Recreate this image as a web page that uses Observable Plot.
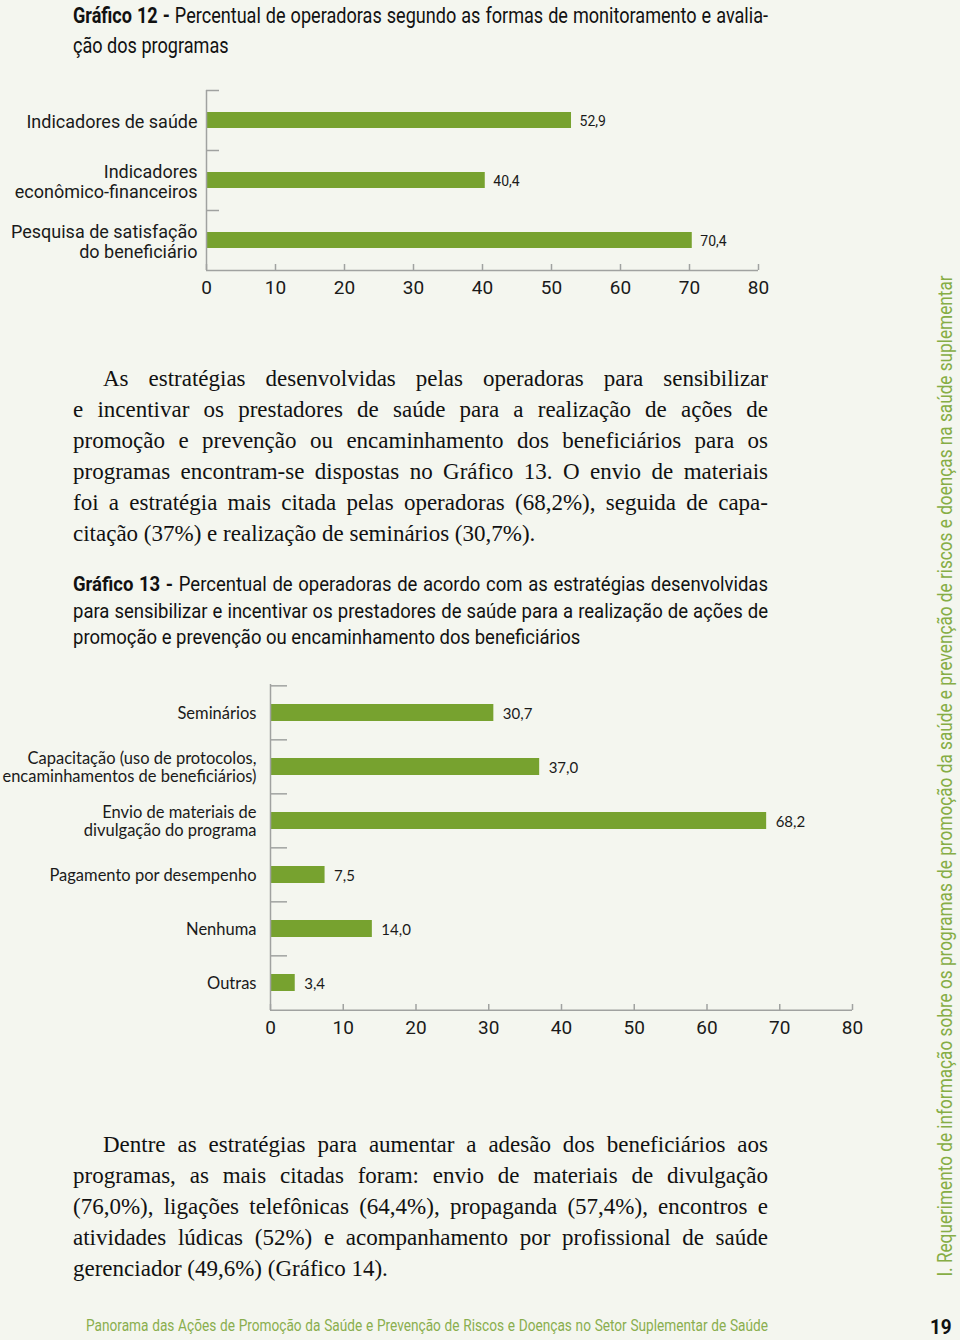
<!DOCTYPE html>
<html>
<head>
<meta charset="utf-8">
<script src="https://cdn.jsdelivr.net/npm/d3@7"></script>
<script src="https://cdn.jsdelivr.net/npm/@observablehq/plot@0.6"></script>
<style>
  html, body { margin: 0; padding: 0; }
  body { width: 960px; height: 1340px; background: #f4f6ef; position: relative; overflow: hidden; }
  .abs { position: absolute; }
  .cond { font-family: Roboto, "Liberation Sans", sans-serif; }
  .serif { font-family: "Liberation Serif", "DejaVu Serif", serif; }
  .line { white-space: nowrap; text-align: justify; text-align-last: justify; }
  .line.last { text-align-last: left; }
  .title { color: #111; font-size: 21px; line-height: 30px; left: 73px; transform-origin: 0 0; }
  .para { color: #111; font-size: 23px; line-height: 31px; width: 695px; left: 73px; }
</style>
</head>
<body>
<div id="root"></div>
<script>
// ---------- data ----------
const cats12 = ["Indicadores de saúde", "Indicadores\neconômico-financeiros", "Pesquisa de satisfação\ndo beneficiário"];
const vals12 = [52.9, 40.4, 70.4];

const cats13 = ["Seminários", "Capacitação (uso de protocolos,\nencaminhamentos de beneficiários)", "Envio de materiais de\ndivulgação do programa", "Pagamento por desempenho", "Nenhuma", "Outras"];
const vals13 = [30.7, 37.0, 68.2, 7.5, 14.0, 3.4];

const xTicks = [0, 10, 20, 30, 40, 50, 60, 70, 80];

// ---------- text ----------
const title12 = ["<b>Gráfico 12 -</b> Percentual de operadoras segundo as formas de monitoramento e avalia-", "ção dos programas"];
const para1 = [
  "As estratégias desenvolvidas pelas operadoras para sensibilizar",
  "e incentivar os prestadores de saúde para a realização de ações de",
  "promoção e prevenção ou encaminhamento dos beneficiários para os",
  "programas encontram-se dispostas no Gráfico 13. O envio de materiais",
  "foi a estratégia mais citada pelas operadoras (68,2%), seguida de capa-",
  "citação (37%) e realização de seminários (30,7%)."
];
const title13 = [
  "<b>Gráfico 13 -</b> Percentual de operadoras de acordo com as estratégias desenvolvidas",
  "para sensibilizar e incentivar os prestadores de saúde para a realização de ações de",
  "promoção e prevenção ou encaminhamento dos beneficiários"
];
const para2 = [
  "Dentre as estratégias para aumentar a adesão dos beneficiários aos",
  "programas, as mais citadas foram: envio de materiais de divulgação",
  "(76,0%), ligações telefônicas (64,4%), propaganda (57,4%), encontros e",
  "atividades lúdicas (52%) e acompanhamento por profissional de saúde",
  "gerenciador (49,6%) (Gráfico 14)."
];

const root = document.getElementById("root");
function block(lines, cls, top, indent, squeeze, extra, width = 695) {
  const d = document.createElement("div");
  d.className = "abs " + cls;
  d.style.top = top + "px";
  if (extra) Object.assign(d.style, extra);
  const els = lines.map((t, i) => {
    const l = document.createElement("div");
    l.className = "line" + (i === lines.length - 1 ? " last" : "");
    if (i === 0 && indent) l.style.textIndent = indent + "px";
    l.innerHTML = t;
    d.appendChild(l);
    return l;
  });
  root.appendChild(d);
  if (squeeze) {
    // measure natural widths of the justified lines, fit the widest with a horizontal squeeze
    let maxW = 0;
    els.forEach((l, i) => {
      if (i === els.length - 1 && els.length > 1) return;
      l.style.display = "inline-block";
      maxW = Math.max(maxW, l.getBoundingClientRect().width + (i === 0 && indent ? 0 : 0));
      l.style.display = "";
    });
    const s = Math.min(1, (width - 6) / maxW);
    d.style.transformOrigin = "0 0";
    d.style.width = (width / s) + "px";
    d.style.transform = `scaleX(${s})`;
  } else {
    d.style.width = width + "px";
  }
  return d;
}
block(title12, "title cond", 1, 0, true, {fontSize: "21.5px"});
block(para1, "para serif", 363, 30);
block(title13, "title cond", 571, 0, true, {fontSize: "20.5px", lineHeight: "26.5px"});
block(para2, "para serif", 1129, 30);

// footer
const foot = block(["Panorama das Ações de Promoção da Saúde e Prevenção de Riscos e Doenças no Setor Suplementar de Saúde", ""], "cond", 1316, 0, true, {left: "86px", fontSize: "16px", color: "#8aae4e"}, 682);

const pg = document.createElement("div");
pg.className = "abs cond";
pg.style.cssText += "left:930px;top:1315px;font-size:21px;font-weight:bold;color:#111;transform-origin:0 0;transform:scaleX(0.9);";
pg.textContent = "19";
root.appendChild(pg);

// sidebar (rotated)
const side = document.createElement("div");
side.className = "abs cond";
side.style.cssText += "font-size:21px;color:#86ad45;white-space:nowrap;line-height:24px;";
side.textContent = "I. Requerimento de informação sobre os programas de promoção da saúde e prevenção de riscos e doenças na saúde suplementar";
root.appendChild(side);
{
  const w = side.offsetWidth, h = side.offsetHeight;
  const s = 1001 / w;
  side.style.left = (945 - w / 2) + "px";
  side.style.top = (775.5 - h / 2) + "px";
  side.style.transform = `rotate(-90deg) scaleX(${s})`;
}

// ---------- charts ----------
const GREEN = "#77a22f";
const AXIS = "#a0a2a0";
const COND = 'Roboto, "Liberation Sans", sans-serif';
const HUM = 'Lato, "Noto Sans", sans-serif';
const fmt = v => v.toFixed(1).replace(".", ",");

function chart(opts) {
  const {cats, vals, width, height, mt, mb, ml, mr, padIn, labelFont, labelSize, labelPad, lineHeight, labelDy, valFont, valSize, valDx, tickFont, tickSize, sepLen, top} = opts;
  const data = cats.map((c, i) => ({c, v: vals[i]}));
  const FH = height - mt - mb;
  const FW = width - ml - mr;
  const step = FH / cats.length;
  const p = Plot.plot({
    width, height, marginTop: mt, marginBottom: mb, marginLeft: ml, marginRight: mr,
    style: {background: "transparent", overflow: "visible"},
    x: {domain: [0, 80], label: null},
    y: {domain: cats, paddingInner: padIn, paddingOuter: padIn / 2, label: null},
    marks: [
      Plot.barX(data, {x: "v", y: "c", fill: GREEN}),
      Plot.text(data, {x: "v", y: "c", text: d => fmt(d.v), dx: valDx, dy: 1, textAnchor: "start", fontSize: valSize, fontFamily: valFont, fill: "#1a1a1a"}),
      Plot.ruleX([0], {stroke: AXIS, strokeWidth: 1.5}),
      Plot.ruleY(cats, {y: d => d, dy: -step / 2, insetRight: FW - sepLen, stroke: AXIS, strokeWidth: 1.5}),
      Plot.ruleY([cats[cats.length - 1]], {y: d => d, dy: step / 2, stroke: AXIS, strokeWidth: 1.5}),
      Plot.tickX(xTicks, {x: d => d, insetTop: FH - 6, stroke: AXIS, strokeWidth: 1.5}),
      Plot.axisX({ticks: xTicks, tickSize: 0, tickPadding: 10, fontSize: tickSize, fontFamily: tickFont, fill: "#1a1a1a", label: null, tickFormat: d => String(d)}),
      Plot.axisY({tickSize: 0, tickPadding: labelPad, dy: labelDy, fontSize: labelSize, fontFamily: labelFont, lineHeight, fill: "#1a1a1a", label: null})
    ]
  });
  p.style.position = "absolute";
  p.style.left = "0px";
  p.style.top = top + "px";
  root.appendChild(p);
}

chart({cats: cats12, vals: vals12, width: 790, height: 230, mt: 10, mb: 40, ml: 206, mr: 32, padIn: 0.74,
  labelFont: COND, labelSize: 18, labelPad: 9, lineHeight: 1.15, labelDy: 1, valFont: COND, valSize: 14, valDx: 8,
  tickFont: COND, tickSize: 19, sepLen: 13, top: 80});

chart({cats: cats13, vals: vals13, width: 900, height: 390, mt: 14, mb: 50, ml: 270, mr: 48, padIn: 0.69,
  labelFont: HUM, labelSize: 16.5, labelPad: 14, lineHeight: 1.12, labelDy: 0, valFont: HUM, valSize: 15, valDx: 9,
  tickFont: COND, tickSize: 19, sepLen: 17, top: 670});
</script>
</body>
</html>
